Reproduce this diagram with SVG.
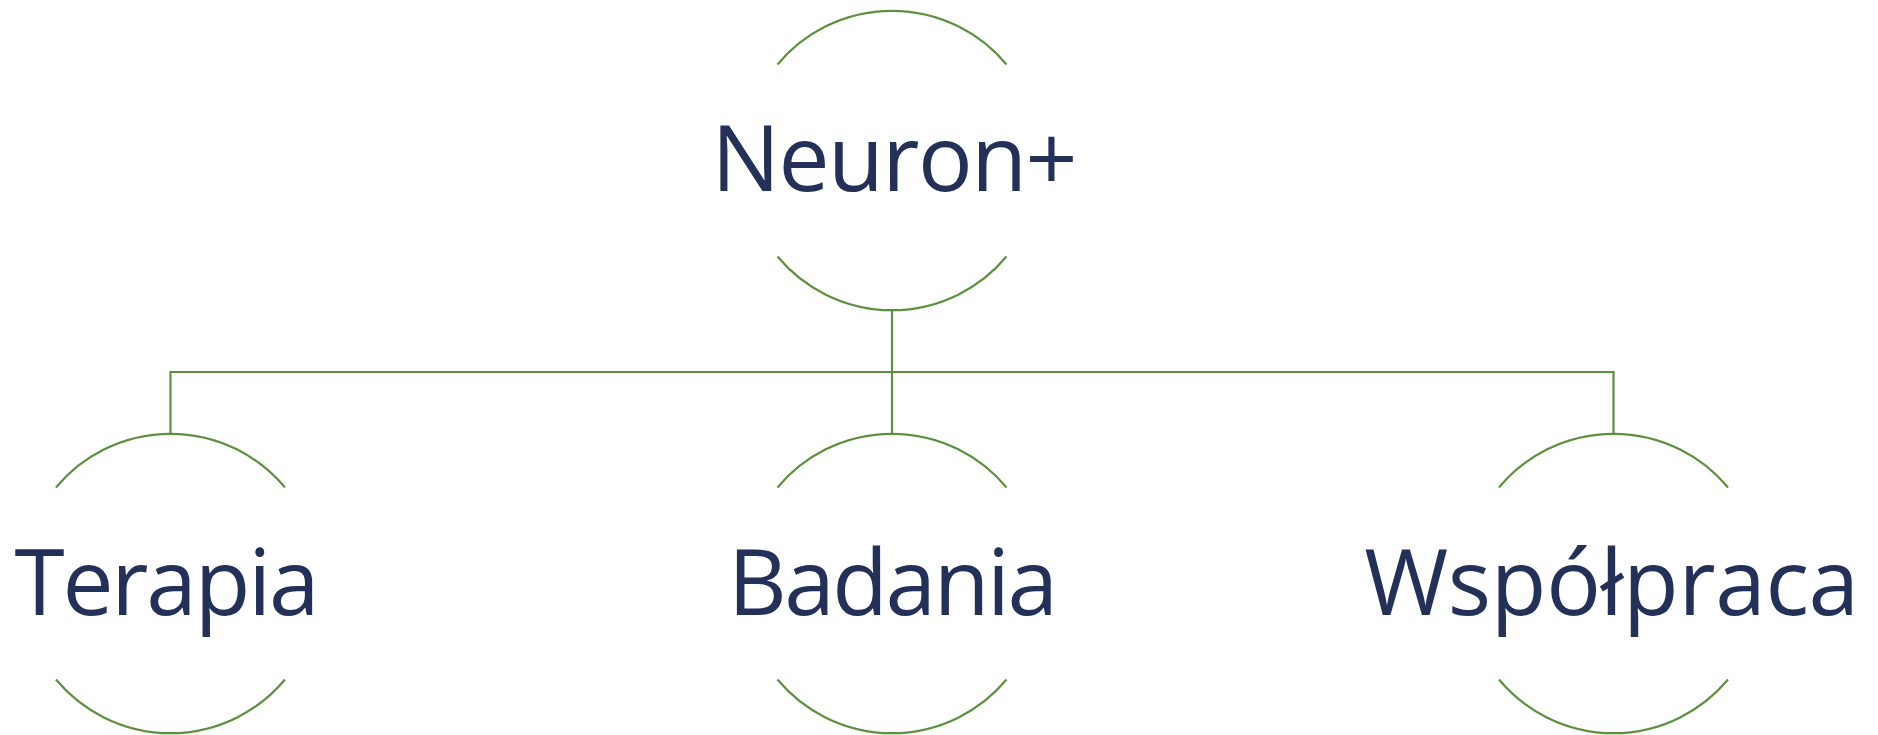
<svg xmlns="http://www.w3.org/2000/svg" width="1878" height="735" viewBox="0 0 1878 735">
<style>
.arc{fill:none;stroke:#5E9040;stroke-width:2.2}
.conn{fill:none;stroke:#5E9040;stroke-width:2.2}
.lbl{font-family:"Open Sans",Lato,"Liberation Sans",sans-serif;font-weight:400;font-size:91px;fill:#233058;text-anchor:middle}
</style>
<rect width="1878" height="735" fill="#ffffff"/>
<g id="connectors">
<path class="conn" d="M892,310 V372 M170.5,434.5 V372 H1613.5 V434.5 M892,372 V434.5"/>
</g>
<g id="node-neuron">
<path class="arc" d="M777.5,64.5 A149,149 0 0 1 1006.5,64.5"/>
<path class="arc" d="M777.5,256.5 A149,149 0 0 0 1006.5,256.5"/>
<text class="lbl" x="894.5" y="190.5" textLength="366">Neuron+</text>
</g>
<g id="node-terapia">
<path class="arc" d="M56,487.5 A149,149 0 0 1 285,487.5"/>
<path class="arc" d="M56,679.5 A149,149 0 0 0 285,679.5"/>
<text class="lbl" x="167" y="615" textLength="305">Terapia</text>
</g>
<g id="node-badania">
<path class="arc" d="M777.5,487.5 A149,149 0 0 1 1006.5,487.5"/>
<path class="arc" d="M777.5,679.5 A149,149 0 0 0 1006.5,679.5"/>
<text class="lbl" x="893" y="615" textLength="330">Badania</text>
</g>
<g id="node-wspolpraca">
<path class="arc" d="M1499,487.5 A149,149 0 0 1 1728,487.5"/>
<path class="arc" d="M1499,679.5 A149,149 0 0 0 1728,679.5"/>
<text class="lbl" x="1611.7" y="615" textLength="495">Współpraca</text>
</g>
</svg>
